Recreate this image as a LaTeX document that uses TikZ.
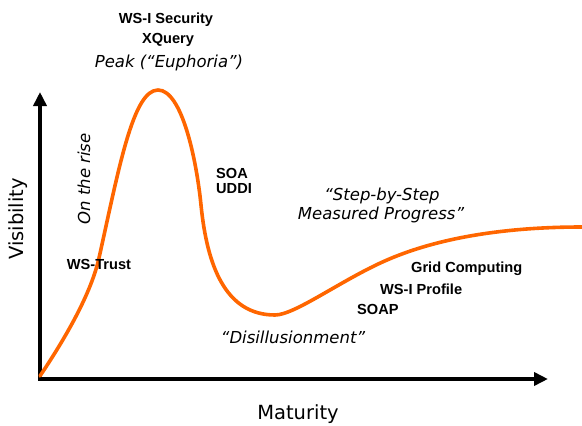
\documentclass[tikz,border=0pt]{standalone}
\usepackage{fontspec}
\setmainfont{DejaVu Sans}
\newfontfamily\labfont{Liberation Sans}
\usetikzlibrary{arrows.meta}
\definecolor{hype}{HTML}{FF6600}
\tikzset{
  tech/.style={font=\labfont\bfseries\fontsize{14.6}{17}\selectfont, inner sep=0pt},
  phase/.style={font=\itshape\fontsize{16.5}{20}\selectfont, inner sep=0pt},
  axislabel/.style={font=\fontsize{19.5}{23}\selectfont, inner sep=0pt},
  axisline/.style={line width=4pt, -{Triangle[width=13pt,length=14pt]}},
  curve/.style={draw=hype, line width=3.6pt, line cap=round, line join=round}
}
\begin{document}
\begin{tikzpicture}[x=1pt,y=-1pt]
\useasboundingbox (0,0) rectangle (582,426);
% axes
\coordinate (origin) at (40,379);
\coordinate (vtip) at (40,92);
\coordinate (htip) at (548,379);
\draw[axisline] (origin) -- (vtip);
\draw[axisline] ([xshift=-2pt]origin) -- (htip);
% hype curve
\coordinate (c0) at (40,376);
\coordinate (c1) at (99,258);
\coordinate (peakpt) at (158,90);
\coordinate (c3) at (201,205);
\coordinate (trough) at (275,315);
\coordinate (c5) at (387,260);
\coordinate (cend) at (582,227);
\draw[curve] (c0)
  .. controls (60,346) and (90,298) .. (c1)
  .. controls (119,168) and (133,90) .. (peakpt)
  .. controls (182,90) and (196.5,160) .. (c3)
  .. controls (207,265) and (225,315) .. (trough)
  .. controls (295,315) and (342,279.5) .. (c5)
  .. controls (447,234) and (520,227) .. (cend);
% axis labels
\node[axislabel, rotate=90] (vis) at (18,219) {Visibility};
\node[axislabel] (mat) at (298,414) {Maturity};
% phase labels
\node[phase] (peak) at (169,63) {Peak (“Euphoria”)};
\node[phase, rotate=90] (rise) at (84,179) {On the rise};
\node[phase] (step1) at (382,196) {“Step-by-Step};
\node[phase] (step2) at (381,215) {Measured Progress”};
\node[phase] (dis) at (293,337) {“Disillusionment”};
% technologies
\node[tech] (wsis) at (166,20) {WS-I Security};
\node[tech] (xq) at (168,40) {XQuery};
\node[tech] (wst) at (99,264) {WS-Trust};
\node[tech, anchor=west] (soa) at (216,173) {SOA};
\node[tech, anchor=west] (uddi) at (216,189) {UDDI};
\node[tech, anchor=west] (grid) at (411,269) {Grid Computing};
\node[tech, anchor=west] (wsip) at (380,289) {WS-I Profile};
\node[tech, anchor=west] (soap) at (357,309) {SOAP};
\end{tikzpicture}
\end{document}
